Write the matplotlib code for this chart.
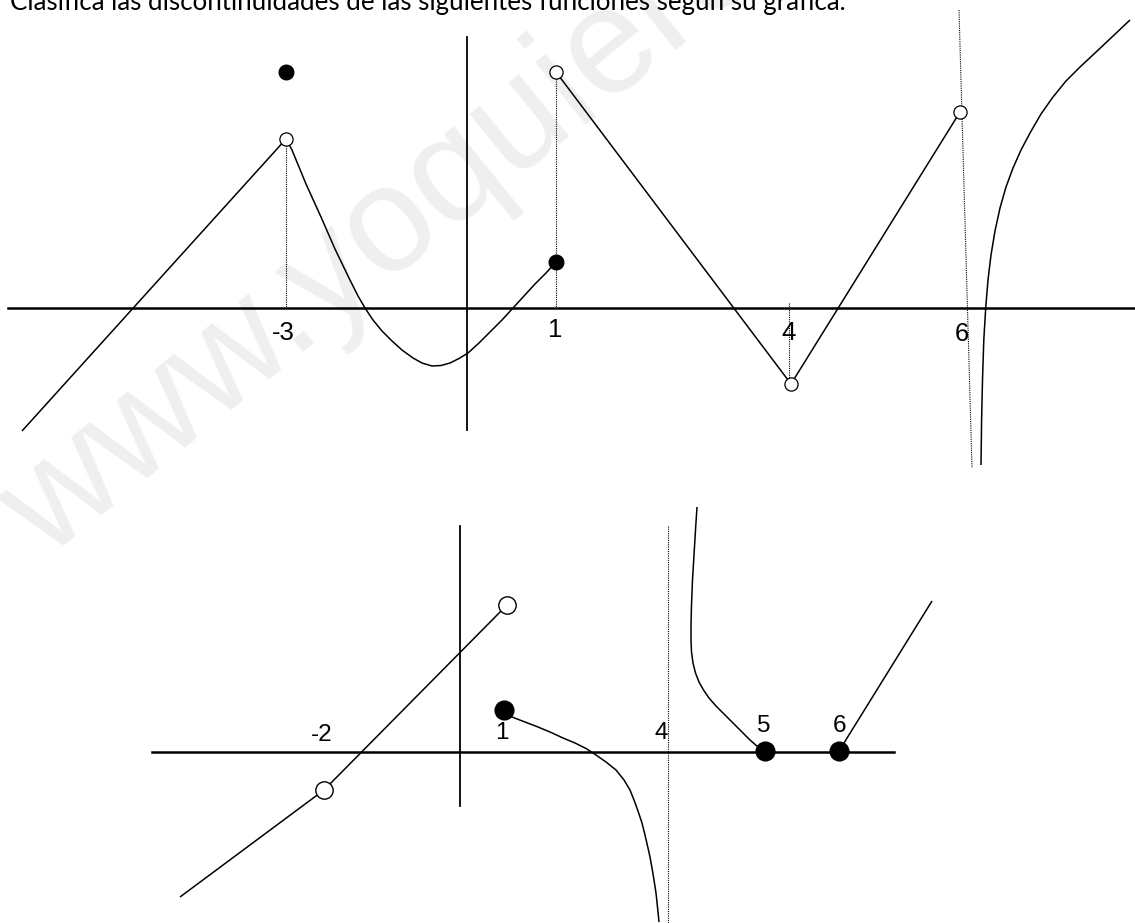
"""Discontinuity worksheet: two hand-drawn function graphs (pixel coords)."""

import matplotlib.pyplot as plt

W, H = 1135, 923

TITLE = "Clasifica las discontinuidades de las siguientes funciones según su gráfica."
WATERMARK = "www.yoquieroaprobar.es"

# ---------------- top graph ----------------
top_xaxis = ([8, 1135], [307.5, 307.5])
top_yaxis = ([467, 467], [37, 430])

top_line_left = ([22, 286], [431, 139])
top_curve_x = [286, 292, 306, 321, 335, 349, 358, 365, 373, 382, 392, 402, 413, 422,
               432, 441, 450, 459, 468, 479, 490, 502, 513, 524, 535, 546, 556]
top_curve_y = [139, 150, 184, 217, 249, 278, 296, 308, 320, 331, 341, 350, 358, 363,
               366, 365.5, 363, 358.5, 353, 343, 332, 320, 308, 296, 284, 273, 262]
top_line_down = ([556, 791], [72, 384])
top_line_up = ([791, 960], [384, 112])
top_hyper_x = [981, 981.6, 982.5, 983.8, 985.7, 988, 991, 995, 1000, 1006, 1013,
               1021, 1030, 1041, 1053, 1066, 1080, 1095, 1112, 1130]
top_hyper_y = [465, 420, 380, 340, 308, 280, 255, 231, 208, 187, 168,
               150, 133, 114, 97, 81, 67, 53, 37, 20]

top_dotted = [([286, 286], [139, 307]),
              ([556, 556], [72, 307]),
              ([789, 789], [303, 384]),
              ([959, 972], [10, 468])]

top_filled = ([286, 556], [71.5, 262])
top_open = ([286, 556, 791, 960], [139, 72, 384, 112])

top_ticks = ["-3", "1", "4", "6"]
top_tick_x = [283, 555, 789, 962]
top_tick_y = [333, 330, 333, 334]

# ---------------- bottom graph ----------------
bot_xaxis = ([152, 894], [751.5, 751.5])
bot_yaxis = ([460, 460], [526, 806])

bot_line_a = ([180, 324], [897, 790])
bot_line_b = ([324, 507], [790, 605])
bot_curve_x = [504, 512, 525, 538, 550, 563, 575, 586, 596, 606, 616, 624, 630,
               634, 638, 642, 645, 648, 650, 652, 654, 656, 657.5, 659]
bot_curve_y = [710, 717, 722, 727, 732, 738, 743, 748.5, 755, 762, 770, 780, 790,
               800, 811, 823, 835, 848, 857, 868, 880, 893, 907, 922]
bot_upper_x = [697, 695.5, 694, 692.5, 691.5, 691, 691, 691.5, 693, 695.5, 699,
               703.5, 709, 716, 724, 733, 742, 750, 758, 765]
bot_upper_y = [507, 530, 555, 580, 605, 625, 640, 652, 663, 673, 682,
               690, 698, 706, 714, 723, 732, 740, 747, 751]
bot_line_c = ([839, 932], [751, 601])
bot_dotted = ([668, 668], [526, 923])

bot_filled = ([504, 765, 839], [710, 751, 751])
bot_open = ([324, 507], [790, 605])

bot_ticks = ["-2", "1", "4", "5", "6"]
bot_tick_x = [322, 502, 661, 764, 839]
bot_tick_y = [735, 733, 733, 726, 726]


fig = plt.figure(figsize=(W / 100, H / 100), dpi=100)
ax = fig.add_axes([0, 0, 1, 1])
ax.set_xlim(0, W)
ax.set_ylim(H, 0)
ax.axis("off")

# watermark
ax.text(47, 560, WATERMARK, rotation=39, rotation_mode="anchor",
        ha="left", va="baseline", fontsize=108, family="Liberation Sans",
        color="#efefef", zorder=0)

ax.text(10, 10, TITLE, ha="left", va="baseline", fontsize=18.6,
        family="Lato", color="black")

k = dict(color="black", lw=1.1, solid_capstyle="butt", solid_joinstyle="round",
         zorder=2)
dot = dict(color="black", lw=0.8, linestyle=(0, (1, 1)), zorder=1)

# top
ax.plot(*top_xaxis, color="black", lw=1.8, zorder=2)
ax.plot(*top_yaxis, color="black", lw=1.3, zorder=2)
for seg in top_dotted:
    ax.plot(*seg, **dot)
ax.plot(*top_line_left, **k)
ax.plot(top_curve_x, top_curve_y, **k)
ax.plot(*top_line_down, **k)
ax.plot(*top_line_up, **k)
ax.plot(top_hyper_x, top_hyper_y, **k)
ax.plot(*top_filled, "o", ms=10.5, color="black", zorder=3)
ax.plot(*top_open, "o", ms=9.5, mfc="white", mec="black", mew=0.9, zorder=3)
for t, x, y in zip(top_ticks, top_tick_x, top_tick_y):
    ax.text(x, y, t, ha="center", va="center", fontsize=18.5,
            family="Liberation Sans")

# bottom
ax.plot(*bot_xaxis, color="black", lw=1.8, zorder=2)
ax.plot(*bot_yaxis, color="black", lw=1.3, zorder=2)
ax.plot(*bot_dotted, **dot)
ax.plot(*bot_line_a, **k)
ax.plot(*bot_line_b, **k)
ax.plot(bot_curve_x, bot_curve_y, **k)
ax.plot(bot_upper_x, bot_upper_y, **k)
ax.plot(*bot_line_c, **k)
ax.plot(*bot_filled, "o", ms=13.5, color="black", zorder=3)
ax.plot(*bot_open, "o", ms=12.5, mfc="white", mec="black", mew=1.0, zorder=3)
for t, x, y in zip(bot_ticks, bot_tick_x, bot_tick_y):
    ax.text(x, y, t, ha="center", va="center", fontsize=17.5,
            family="Liberation Sans")

fig.savefig("out.png", dpi=100, facecolor="white")
